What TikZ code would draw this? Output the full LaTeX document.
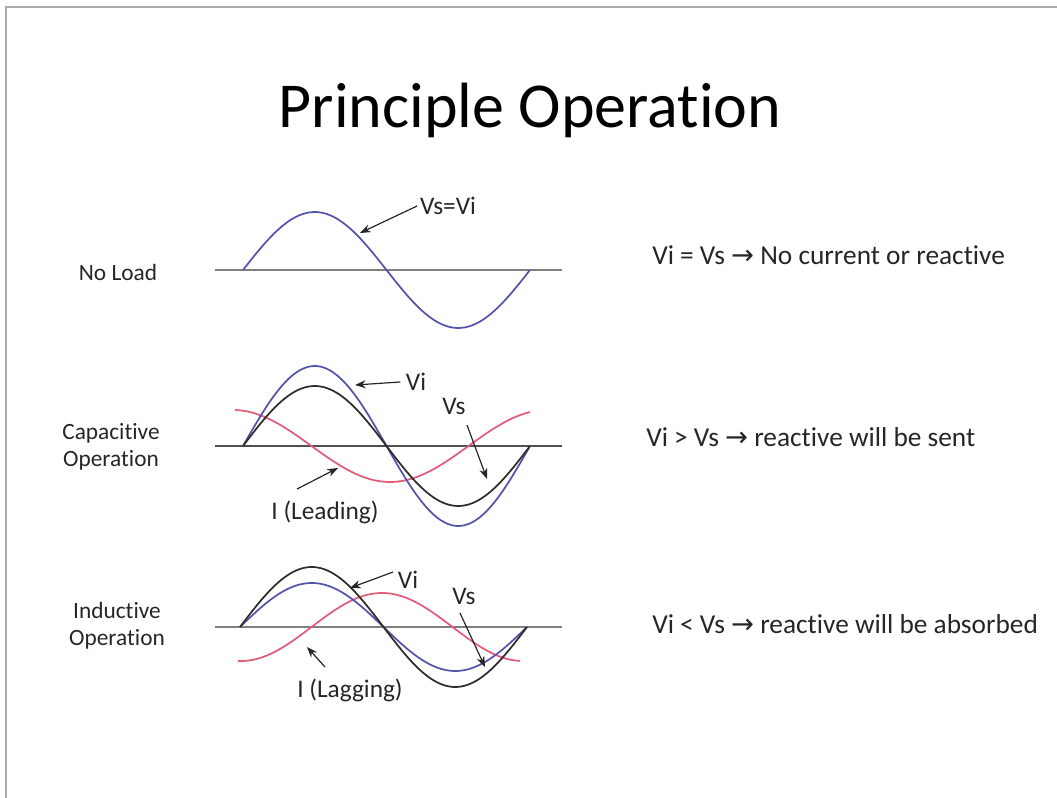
\documentclass[tikz,border=0pt]{standalone}
\usepackage{fontspec}
\setmainfont{Carlito}[Ligatures=NoCommon]
\newfontfamily\arrowfont{DejaVu Sans}
\newcommand\rarr{{\arrowfont →}}
\usetikzlibrary{arrows.meta,positioning}
\definecolor{framegray}{RGB}{170,170,170}
\definecolor{axisgray}{RGB}{128,128,128}
\definecolor{axisdark}{RGB}{80,80,80}
\definecolor{vblue}{RGB}{84,84,170}
\definecolor{vblack}{RGB}{45,45,45}
\definecolor{ired}{RGB}{226,92,122}
\definecolor{textgray}{RGB}{38,38,38}

\begin{document}
\begin{tikzpicture}[x=0.75pt, y=-0.75pt,
        axis/.style={line width=1.5pt, draw=axisgray},
        wave/.style={line width=1.3pt},
        tag/.style={inner sep=0pt, text=textgray, font=\fontsize{19}{22}\selectfont},
        side/.style={inner sep=0pt, text=textgray, align=center, font=\fontsize{17.5}{20}\selectfont},
        note/.style={inner sep=0pt, anchor=west, text=textgray, font=\fontsize{20.5}{24}\selectfont},
        pointer/.style={-{Stealth[length=8pt,width=6pt]}, line width=0.9pt, draw=black!85}
    ]
        \useasboundingbox (0,0) rectangle (1057,798);
        % Frame
        \draw[framegray, line width=1.5pt] (6,798) -- (6,7) -- (1057,7);
        
        % Title
        \node[inner sep=0pt, font=\fontsize{48}{52}\selectfont] (title) at (530,110) {Principle Operation};
        
        % No load
        \node[side] (noload) at (118,272) {No Load};
        \draw[axis] (215,270) -- (562,270);
        \draw[wave, draw=vblue] plot[domain=243:530, samples=90] (\x, {270-58*sin((\x-243)/287*360)});
        \node[tag] (vsvi) at (448,206) {Vs=Vi};
        \coordinate (vsvitip) at (360,233);
        \draw[pointer] ([xshift=-2pt]vsvi.west) -- (vsvitip);
        \node[note] (nonote) at (652,255) {Vi = Vs \rarr\ No current or reactive};
        
        % Capacitive operation
        \node[side] (capac) at (111,447) {Capacitive\\Operation};
        \draw[axis, draw=axisdark] (215,446) -- (562,446);
        \draw[wave, draw=ired] plot[domain=235:530, samples=90] (\x, {446+36*cos((\x-390)/314*360)});
        \draw[wave, draw=vblue] plot[domain=243:530, samples=90] (\x, {446-80*sin((\x-243)/287*360)});
        \draw[wave, draw=vblack] plot[domain=243:530, samples=90] (\x, {446-60*sin((\x-243)/287*360)});
        \node[tag] (vicap) at (416,382) {Vi};
        \node[tag] (vscap) at (454,406) {Vs};
        \node[tag] (ilead) at (325,512) {I (Leading)};
        \coordinate (vicaptip) at (355,385);
        \coordinate (vscaptail) at (467,425);
        \coordinate (vscaptip) at (487,479);
        \coordinate (ileadtail) at (297,489);
        \coordinate (ileadtip) at (338,468);
        \draw[pointer] ([xshift=-4pt]vicap.west) -- (vicaptip);
        \draw[pointer] (vscaptail) -- (vscaptip);
        \draw[pointer] (ileadtail) -- (ileadtip);
        \node[note] (capnote) at (646,437) {Vi > Vs \rarr\ reactive will be sent};
        
        % Inductive operation
        \node[side] (induc) at (117,626) {Inductive\\Operation};
        \draw[axis] (215,627) -- (562,627);
        \draw[wave, draw=ired] plot[domain=238:520, samples=90] (\x, {627-34*cos((\x-382)/282*360)});
        \draw[wave, draw=vblue] plot[domain=240:527, samples=90] (\x, {627-44*sin((\x-240)/287*360)});
        \draw[wave, draw=vblack] plot[domain=240:527, samples=90] (\x, {627-60*sin((\x-240)/287*360)});
        \node[tag] (viind) at (408,580) {Vi};
        \node[tag] (vsind) at (464,596) {Vs};
        \node[tag] (ilag) at (350,690) {I (Lagging)};
        \coordinate (viindtail) at (393,572);
        \coordinate (viindtip) at (350,588);
        \coordinate (vsindtail) at (460,613);
        \coordinate (vsindtip) at (485,667);
        \coordinate (ilagtail) at (325,667);
        \coordinate (ilagtip) at (307,647);
        \draw[pointer] (viindtail) -- (viindtip);
        \draw[pointer] (vsindtail) -- (vsindtip);
        \draw[pointer] (ilagtail) -- (ilagtip);
        \node[note] (indnote) at (652,624) {Vi < Vs \rarr\ reactive will be absorbed};
        
    \end{tikzpicture}
\end{document}
